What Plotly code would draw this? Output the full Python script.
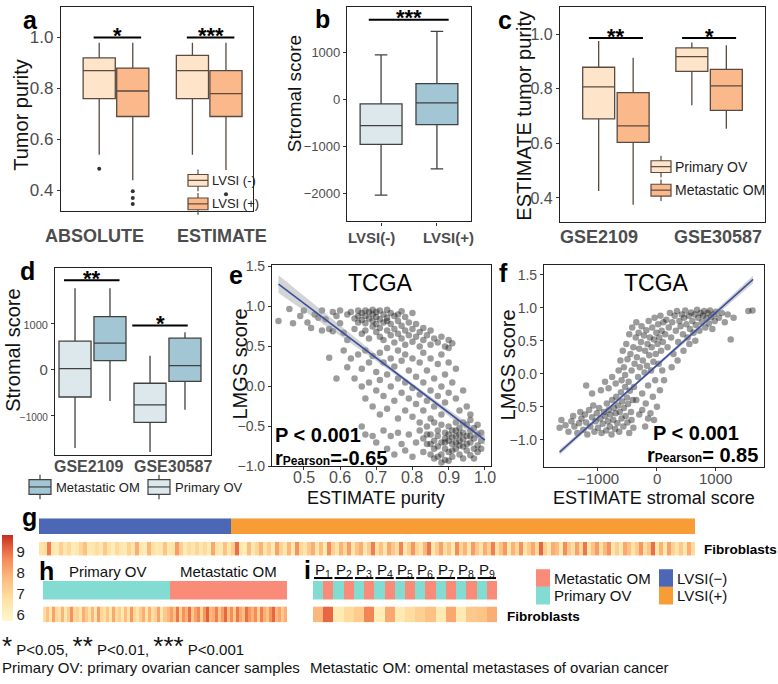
import plotly.graph_objects as go
import numpy as np

W, H = 778, 684
FONT = "Arial, Liberation Sans, Helvetica, sans-serif"
GRAY = "#4d4d4d"

def px(x): return x / W
def py(y): return 1 - y / H
def dx(a, b): return [a / W, b / W]
def dy(top, bottom): return [1 - bottom / H, 1 - top / H]

# ---------------- DATA ----------------
# a: tumor purity by LVSI status
A_CATS = ["ABSOLUTE", "ESTIMATE"]
A_NEG_Q1 = [0.76, 0.76]; A_NEG_MED = [0.87, 0.87]; A_NEG_Q3 = [0.92, 0.93]
A_NEG_LO = [0.54, 0.54]; A_NEG_HI = [0.98, 0.98]
A_POS_Q1 = [0.69, 0.69]; A_POS_MED = [0.79, 0.78]; A_POS_Q3 = [0.88, 0.87]
A_POS_LO = [0.44, 0.48]; A_POS_HI = [0.98, 0.98]
A_NEG_OUT_CAT = ["ABSOLUTE"]; A_NEG_OUT = [0.485]
A_POS_OUT_CAT = ["ABSOLUTE", "ABSOLUTE", "ABSOLUTE", "ESTIMATE"]; A_POS_OUT = [0.396, 0.37, 0.346, 0.385]
A_SIG = ["*", "***"]; A_SIG_Y = [1.0, 1.0]

# b: stromal score by LVSI
B_CATS = ["LVSI(-)", "LVSI(+)"]
B_Q1 = [-960, -540]; B_MED = [-560, -80]; B_Q3 = [-100, 330]
B_LO = [-2040, -1480]; B_HI = [940, 1440]
B_SIG = "***"; B_SIG_Y = 1690

# c: ESTIMATE tumor purity, primary vs metastatic
C_CATS = ["GSE2109", "GSE30587"]
C_PRI_Q1 = [0.69, 0.864]; C_PRI_MED = [0.807, 0.918]; C_PRI_Q3 = [0.879, 0.95]
C_PRI_LO = [0.425, 0.74]; C_PRI_HI = [0.975, 0.97]
C_MET_Q1 = [0.604, 0.721]; C_MET_MED = [0.664, 0.811]; C_MET_Q3 = [0.786, 0.871]
C_MET_LO = [0.375, 0.654]; C_MET_HI = [0.914, 0.96]
C_SIG = ["**", "*"]; C_SIG_Y = [0.986, 0.986]

# d: stromal score, primary vs metastatic
D_CATS = ["GSE2109", "GSE30587"]
D_PRI_Q1 = [-600, -1156]; D_PRI_MED = [20, -771]; D_PRI_Q3 = [620, -300]
D_PRI_LO = [-1713, -1800]; D_PRI_HI = [1777, 300]
D_MET_Q1 = [193, -257]; D_MET_MED = [578, 86]; D_MET_Q3 = [1156, 685]
D_MET_LO = [-685, -878]; D_MET_HI = [1777, 814]
D_SIG = ["**", "*"]; D_SIG_Y = [1950, 963]

# e: LMGS score vs ESTIMATE purity (TCGA)
E_POINTS = [
    (0.43,0.82),(0.46,0.97),(0.47,0.79),(0.49,0.88),(0.50,0.95),(0.51,0.80),(0.52,0.73),(0.53,0.90),
    (0.54,0.86),(0.55,0.70),(0.55,0.95),(0.56,0.84),(0.57,0.72),(0.57,0.36),(0.58,0.93),(0.58,0.69),
    (0.59,0.88),(0.59,0.10),(0.60,0.95),(0.60,0.79),(0.61,0.67),(0.61,0.45),(0.62,0.90),(0.62,0.24),
    (0.62,0.58),
    (0.63,0.93),(0.64,0.85),(0.64,0.72),(0.65,0.95),(0.65,0.88),(0.65,0.80),(0.66,0.92),(0.66,0.83),
    (0.66,0.66),(0.67,0.95),(0.67,0.88),(0.67,0.79),(0.67,0.70),(0.68,0.93),(0.68,0.85),(0.68,0.60),
    (0.69,0.96),(0.69,0.90),(0.69,0.82),(0.69,0.75),(0.70,0.93),(0.70,0.87),(0.70,0.78),(0.70,0.68),
    (0.71,0.95),(0.71,0.84),(0.71,0.73),(0.71,0.62),(0.72,0.90),(0.72,0.80),(0.72,0.58),(0.73,0.96),
    (0.73,0.86),(0.73,0.70),(0.74,0.92),(0.74,0.78),(0.74,0.64),(0.75,0.88),(0.75,0.72),(0.75,0.55),
    (0.76,0.82),(0.76,0.66),(0.77,0.94),(0.77,0.76),(0.77,0.60),(0.78,0.87),(0.78,0.70),(0.78,0.52),
    (0.79,0.80),(0.79,0.64),(0.80,0.92),(0.80,0.72),(0.80,0.56),(0.81,0.78),(0.81,0.62),(0.82,0.68),
    (0.82,0.50),(0.83,0.73),(0.83,0.58),(0.84,0.64),(0.85,0.70),(0.85,0.52),(0.86,0.60),(0.87,0.55),
    (0.88,0.62),(0.89,0.50),(0.90,0.58),(0.91,0.54),(0.73,0.82),(0.76,0.90),
    (0.63,0.35),(0.64,0.10),(0.65,0.40),(0.66,0.22),(0.66,0.00),(0.67,0.45),(0.67,-0.15),(0.68,0.30),
    (0.68,0.05),(0.69,0.38),(0.69,-0.25),(0.70,0.18),(0.70,-0.05),(0.71,0.42),(0.71,0.08),(0.71,-0.35),
    (0.72,0.30),(0.72,-0.12),(0.73,0.48),(0.73,0.15),(0.73,-0.28),(0.74,0.35),(0.74,0.00),(0.75,0.25),
    (0.75,-0.18),(0.76,0.45),(0.76,0.10),(0.76,-0.40),(0.77,0.32),(0.77,-0.08),(0.78,0.40),(0.78,0.05),
    (0.78,-0.30),(0.79,0.20),(0.79,-0.15),(0.80,0.35),(0.80,-0.02),(0.80,-0.38),(0.81,0.12),(0.81,-0.22),
    (0.82,0.30),(0.82,-0.10),(0.82,-0.45),(0.83,0.42),(0.83,0.05),(0.83,-0.30),(0.84,0.20),(0.84,-0.18),
    (0.85,0.35),(0.85,-0.05),(0.85,-0.40),(0.86,0.10),(0.86,-0.25),(0.87,0.28),(0.87,-0.12),(0.88,0.40),
    (0.88,0.00),(0.88,-0.35),(0.89,0.15),(0.89,-0.20),(0.90,0.30),(0.90,-0.08),(0.91,0.05),(0.92,0.22),
    (0.92,-0.15),(0.93,-0.30),(0.94,-0.05),(0.95,-0.25),(0.96,-0.35),(0.90,0.48),
    (0.66,-0.50),(0.67,-0.60),(0.69,-0.62),(0.70,-0.70),(0.72,-0.55),(0.73,-0.78),(0.74,-0.62),(0.75,-0.85),
    (0.76,-0.58),(0.77,-0.72),(0.78,-0.80),(0.79,-0.60),(0.80,-0.88),(0.81,-0.70),(0.82,-0.55),
    (0.83,-0.65),(0.83,-0.82),(0.84,-0.50),(0.84,-0.72),(0.85,-0.60),(0.85,-0.85),(0.86,-0.45),(0.86,-0.68),
    (0.86,-0.90),(0.87,-0.55),(0.87,-0.75),(0.87,-0.62),(0.88,-0.48),(0.88,-0.70),(0.88,-0.85),(0.89,-0.58),
    (0.89,-0.78),(0.89,-0.65),(0.89,-0.92),(0.90,-0.50),(0.90,-0.68),(0.90,-0.82),(0.90,-0.60),(0.91,-0.72),
    (0.91,-0.55),(0.91,-0.88),(0.91,-0.64),(0.92,-0.45),(0.92,-0.78),(0.92,-0.62),(0.92,-0.70),(0.93,-0.52),
    (0.93,-0.85),(0.93,-0.68),(0.93,-0.60),(0.94,-0.75),(0.94,-0.58),(0.94,-0.90),(0.94,-0.66),(0.95,-0.48),
    (0.95,-0.72),(0.95,-0.80),(0.95,-0.62),(0.96,-0.55),(0.96,-0.70),(0.96,-0.86),(0.96,-0.42),(0.97,-0.65),
    (0.97,-0.78),(0.97,-0.52),(0.97,-0.90),(0.98,-0.60),(0.98,-0.74),(0.98,-0.82),(0.98,-0.48),(0.99,-0.68),
    (0.99,-0.58),(0.99,-0.78),(0.88,-0.95),(0.90,-0.93),(0.86,-0.78),(0.84,-0.60),(0.92,-0.55),(0.94,-0.45),
    (0.96,-0.62),(0.93,-0.74),(0.91,-0.80),(0.89,-0.70),(0.87,-0.88),(0.85,-0.72),
]
E_PURITY = [p[0] for p in E_POINTS]
E_LMGS = [p[1] for p in E_POINTS]
E_FIT_SLOPE, E_FIT_INTERCEPT = -3.42, 2.75
E_FIT_RANGE = [0.43, 1.0]
E_XTICKS = [0.5, 0.6, 0.7, 0.8, 0.9, 1.0]
E_STATS = ["P &lt; 0.001", "r<span style='font-size:12px'>Pearson</span>=-0.65"]

# f: LMGS score vs ESTIMATE stromal score (TCGA)
F_POINTS = [
    (-1650,-0.82),(-1620,-0.70),(-1550,-0.78),(-1500,-0.88),(-1450,-0.72),(-1420,-0.64),(-1400,-0.80),
    (-1350,-0.90),(-1320,-0.75),(-1300,-0.58),(-1280,-0.68),(-1250,-0.85),(-1220,-0.62),(-1200,-0.74),
    (-1180,-0.92),(-1150,-0.55),(-1130,-0.80),(-1100,-0.66),(-1080,-0.48),(-1060,-0.88),(-1040,-0.72),
    (-1020,-0.60),(-1000,-0.82),(-980,-0.52),(-960,-0.68),(-940,-0.90),(-920,-0.76),(-900,-0.58),
    (-880,-0.64),(-860,-0.86),(-850,-0.45),(-830,-0.72),(-820,-0.55),(-800,-0.80),(-790,-0.62),
    (-770,-0.92),(-760,-0.40),(-740,-0.70),(-730,-0.52),(-710,-0.84),(-700,-0.60),(-690,-0.35),
    (-670,-0.75),(-660,-0.48),(-640,-0.88),(-630,-0.58),(-610,-0.28),(-600,-0.68),(-590,-0.42),
    (-570,-0.80),(-560,-0.52),(-540,-0.20),(-530,-0.64),(-510,-0.36),(-500,-0.74),(-490,-0.46),
    (-470,-0.90),(-460,-0.26),(-440,-0.58),(-430,-0.70),(-410,-0.40),(-400,-0.82),(-1200,-0.18),
    (-1100,-0.30),(-950,-0.25),(-880,-0.12),(-820,-0.22),(-760,-0.05),(-700,-0.15),(-650,0.05),
    (-620,0.20),(-600,-0.10),(-580,0.35),(-560,0.10),(-540,-0.02),(-520,0.45),(-500,0.22),(-480,-0.12),
    (-470,0.60),(-450,0.30),(-430,0.05),(-420,0.70),(-400,0.40),(-390,-0.20),(-380,0.15),(-360,0.55),
    (-350,0.78),(-340,0.25),(-320,-0.05),(-310,0.62),(-300,0.38),(-290,0.10),(-270,0.48),(-260,0.72),
    (-250,-0.30),(-240,0.20),(-220,0.58),(-210,0.02),(-200,0.35),(-190,-0.45),(-180,0.66),(-170,0.12),
    (-160,0.45),(-150,-0.18),(-140,0.80),(-130,0.28),(-120,0.55),(-110,-0.60),(-100,0.05),(-90,0.40),
    (-80,0.70),(-70,-0.35),(-60,0.18),(-50,0.52),(-40,0.85),(-30,-0.10),(-20,0.30),(-10,0.62),(0,-0.50),
    (10,0.45),(20,0.75),(30,0.15),(40,0.55),(50,-0.25),(60,0.88),(70,0.35),(80,0.65),(90,0.05),
    (100,0.48),(110,0.78),(120,-0.10),(-250,-0.55),(-150,-0.68),(-300,-0.62),(-350,-0.40),(-50,-0.70),
    (-200,-0.80),
    (140,0.60),(160,0.82),(180,0.40),(200,0.70),(220,0.92),(240,0.55),(260,0.78),(280,0.30),(300,0.88),
    (320,0.65),(340,0.95),(360,0.48),(380,0.80),(400,0.72),(420,0.90),(440,0.60),(460,0.85),(480,0.96),
    (500,0.75),(520,0.55),(540,0.88),(560,0.68),(580,0.93),(600,0.80),(620,0.62),(640,0.90),(660,0.74),
    (680,0.97),(700,0.85),(720,0.65),(740,0.92),(760,0.78),(780,0.88),(800,0.95),(820,0.70),(840,0.84),
    (860,0.92),(880,0.76),(900,0.96),(920,0.86),(940,0.68),(960,0.90),(980,0.80),(1000,0.94),(1050,0.85),
    (1100,0.92),(1150,0.78),(1200,0.90),(1250,0.52),(1300,0.85),(1550,0.95),(1620,0.96),(350,0.20),
    (450,0.35),(550,0.45),(250,0.10),(650,0.50),
]
F_STROMAL = [p[0] for p in F_POINTS]
F_LMGS = [p[1] for p in F_POINTS]
F_FIT_SLOPE, F_FIT_INTERCEPT = 0.000799, 0.128
F_FIT_RANGE = [-1650, 1630]
F_XTICKS = [-1000, 0, 1000]
F_XTICKTEXT = ["−1000", "0", "1000"]
F_STATS = ["P &lt; 0.001", "r<span style='font-size:12px'>Pearson</span>= 0.85"]

# g: TCGA fibroblast scores by LVSI
G_FIBRO = [
    6.6,6.8,8.8,6.5,6.3,7.2,6.5,6.9,6.2,6.4,7.0,7.6,6.3,6.5,6.8,6.4,7.4,6.6,6.2,6.9,
    6.5,6.3,7.1,6.6,8.0,6.4,6.2,7.8,6.7,6.3,6.5,7.5,6.4,6.6,8.3,7.2,6.3,6.8,6.5,7.0,
    6.4,6.9,6.3,8.1,6.6,6.4,7.6,6.5,7.3,9.0,6.5,6.2,7.7,6.4,7.0,7.9,6.6,7.3,6.3,8.2,
    7.1,6.5,7.8,6.4,8.5,7.0,6.6,7.4,8.0,6.5,7.7,6.3,8.6,7.2,6.5,7.9,7.0,8.3,6.6,7.5,
    8.0,6.4,7.3,8.8,6.7,7.6,6.5,8.1,7.4,6.8,8.7,6.4,7.2,8.4,7.0,6.6,7.8,8.9,6.5,7.3,
    8.2,6.8,7.5,6.3,8.6,7.1,7.9,6.5,8.3,7.4,6.6,8.0,7.2,8.8,6.7,7.6,8.4,6.5,7.9,7.0,
    8.5,6.6,7.3,8.1,6.9,9.1,7.2,6.5,8.0,7.7,6.4,8.6,7.4,6.8,8.2,7.0,8.9,6.6,7.5,8.3,
    6.7,7.8,8.5,6.5,7.2,6.4,8.1,7.6,6.6,7.3,8.4,6.8,7.5,9.0,6.5,7.9,6.4,8.2,7.1,6.6,
    7.4,6.5,8.0,6.9,
]
G_N_NEG = 48
G_GROUP = ["LVSI(−)"] * G_N_NEG + ["LVSI(+)"] * (len(G_FIBRO) - G_N_NEG)

# h: GSE2109 fibroblast scores
H_FIBRO = [
    6.8,7.6,6.5,8.2,7.0,6.6,7.9,6.4,7.3,8.5,6.9,7.1,6.5,8.0,7.4,6.6,7.8,6.4,8.3,7.0,
    6.7,7.5,6.5,8.1,6.8,7.2,6.4,7.7,6.6,8.4,7.0,6.5,7.3,8.0,6.6,7.9,6.8,7.1,8.2,6.5,7.4,7.8,
    8.3,7.6,8.9,7.2,8.5,7.9,9.0,7.4,8.2,8.7,7.1,8.4,9.2,7.8,8.0,8.8,7.5,8.3,9.1,7.7,
    8.6,7.3,8.9,8.1,7.6,9.0,8.4,7.9,8.6,7.2,8.8,8.0,7.5,8.5,9.1,7.8,8.2,7.4,8.0,
]
H_N_PRI = 42
H_GROUP = ["Primary OV"] * H_N_PRI + ["Metastatic OM"] * (len(H_FIBRO) - H_N_PRI)
H_GROUP_LABELS = ["Primary OV", "Metastatic OM"]

# i: GSE30587 paired samples
I_PATIENTS = ["P<sub>%d</sub>" % k for k in range(1, 10)]
I_GROUP = ["Primary OV", "Metastatic OM"] * 9
I_FIBRO = [7.8, 9.1, 6.3, 6.9, 7.3, 8.7, 6.2, 8.1, 6.3, 6.8, 7.2, 7.6, 6.3, 8.1, 6.3, 7.4, 7.5, 8.0]

# ---------------- STYLE ----------------
PEACH_L, PEACH_D, BROWN = "#FEE4C8", "#FBB98B", "#5a4a40"
BLUE_L, BLUE_D, DGRAY = "#DCE8EB", "#A3C6D4", "#404040"
TEAL, SALMON, LBLUE, LORANGE = "#83DCD2", "#F98B78", "#4C67B6", "#F89D35"
HEAT_SCALE = [[0, "#FFF8CC"], [0.25, "#FEE1A3"], [0.5, "#FCBB7E"], [0.72, "#F58A59"],
              [0.88, "#E0573A"], [1, "#C42E1E"]]

fig = go.Figure()
shapes, annotations = [], []

def ann(text, x, y, size, color="#000", bold=False, xanchor="center", yanchor="middle",
        angle=0, xref="paper", yref="paper", **kw):
    if bold:
        text = "<b>%s</b>" % text
    annotations.append(dict(text=text, x=x, y=y, xref=xref, yref=yref, showarrow=False,
                            xanchor=xanchor, yanchor=yanchor, textangle=angle,
                            font=dict(size=size, color=color, family=FONT), **kw))

def pann(text, x, y, size, **kw):
    ann(text, px(x), py(y), size, **kw)

def box(xs, q1, med, q3, lo, hi, fill, edge, width, ax, ww=0.0):
    return go.Box(x=xs, q1=q1, median=med, q3=q3, lowerfence=lo, upperfence=hi,
                  fillcolor=fill, line=dict(color=edge, width=1.3), width=width,
                  whiskerwidth=ww, boxpoints=False, xaxis="x" + ax, yaxis="y" + ax,
                  hoverinfo="skip", showlegend=False)

def sig(ax, x0, x1, y, text):
    shapes.append(dict(type="line", xref="x" + ax, yref="y" + ax, x0=x0, x1=x1, y0=y, y1=y,
                       line=dict(color="#000", width=2)))
    ann(text, (x0 + x1) / 2, y, 22, bold=True, xref="x" + ax, yref="y" + ax, yshift=2)

def glyph(xc, yc, fill, edge, w=20, h=12, wh=5):
    shapes.append(dict(type="line", xref="paper", yref="paper", x0=px(xc), x1=px(xc),
                       y0=py(yc - h / 2 - wh), y1=py(yc + h / 2 + wh), line=dict(color=edge, width=1.2)))
    shapes.append(dict(type="rect", xref="paper", yref="paper", x0=px(xc - w / 2), x1=px(xc + w / 2),
                       y0=py(yc + h / 2), y1=py(yc - h / 2), fillcolor=fill, line=dict(color=edge, width=1.2)))
    shapes.append(dict(type="line", xref="paper", yref="paper", x0=px(xc - w / 2), x1=px(xc + w / 2),
                       y0=py(yc), y1=py(yc), line=dict(color=edge, width=1.2)))

def frame(domain, rng, **kw):
    d = dict(domain=domain, range=rng, showline=True, mirror=True, linecolor="#222", linewidth=1.2,
             showgrid=False, zeroline=False, ticks="outside", ticklen=3, tickcolor="#333",
             tickfont=dict(size=14, color=GRAY, family=FONT), fixedrange=True)
    d.update(kw)
    return d

def bare(domain, rng):
    return dict(domain=domain, range=rng, visible=False, showgrid=False, zeroline=False, fixedrange=True)

layout_axes = {}

# ---------- panel a ----------
A_POS = {c: i + 1 for i, c in enumerate(A_CATS)}
xa = [A_POS[c] for c in A_CATS]
fig.add_trace(box([p - 0.18 for p in xa], A_NEG_Q1, A_NEG_MED, A_NEG_Q3, A_NEG_LO, A_NEG_HI, PEACH_L, BROWN, 0.345, ""))
fig.add_trace(box([p + 0.18 for p in xa], A_POS_Q1, A_POS_MED, A_POS_Q3, A_POS_LO, A_POS_HI, PEACH_D, BROWN, 0.345, ""))
fig.add_trace(go.Scatter(x=[A_POS[c] - 0.18 for c in A_NEG_OUT_CAT], y=A_NEG_OUT, mode="markers",
                         marker=dict(color="#333", size=4), xaxis="x", yaxis="y", hoverinfo="skip"))
fig.add_trace(go.Scatter(x=[A_POS[c] + 0.18 for c in A_POS_OUT_CAT], y=A_POS_OUT, mode="markers",
                         marker=dict(color="#333", size=4), xaxis="x", yaxis="y", hoverinfo="skip"))
layout_axes["xaxis"] = frame(dx(61, 253), [0.41, 2.47], showticklabels=False, ticks="", anchor="y")
layout_axes["yaxis"] = frame(dy(1, 209), [0.32, 1.12], tickvals=[0.4, 0.6, 0.8, 1.0], tickformat=".1f",
                             tickfont=dict(size=17, color=GRAY, family=FONT), anchor="x")
for c, s, yv in zip(A_CATS, A_SIG, A_SIG_Y):
    sig("", A_POS[c] - 0.24, A_POS[c] + 0.27, yv, s)
for c, xc in zip(A_CATS, [94, 222]):
    pann(c, xc, 235, 18, color=GRAY, bold=True)
pann("Tumor purity", 21, 111, 20, color="#111", angle=-90)
glyph(198, 178, PEACH_L, BROWN)
glyph(198, 202, PEACH_D, BROWN)
pann("LVSI (-)", 210, 178, 13, color="#222", xanchor="left")
pann("LVSI (+)", 210, 202, 13, color="#222", xanchor="left")

# ---------- panel b ----------
xb = [1, 2]
fig.add_trace(box([xb[0]], [B_Q1[0]], [B_MED[0]], [B_Q3[0]], [B_LO[0]], [B_HI[0]], BLUE_L, DGRAY, 0.75, "2", 0.3))
fig.add_trace(box([xb[1]], [B_Q1[1]], [B_MED[1]], [B_Q3[1]], [B_LO[1]], [B_HI[1]], BLUE_D, DGRAY, 0.75, "2", 0.3))
layout_axes["xaxis2"] = frame(dx(347, 471), [0.39, 2.61], tickvals=xb, showticklabels=False, anchor="y2")
layout_axes["yaxis2"] = frame(dy(1, 220), [-2600, 1960], tickvals=[-2000, -1000, 0, 1000],
                              ticktext=["−2000", "−1000", "0", "1000"],
                              tickfont=dict(size=13, color=GRAY, family=FONT), anchor="x2")
sig("2", 0.78, 2.21, B_SIG_Y, B_SIG)
for c, xc in zip(B_CATS, [371, 448]):
    pann(c, xc, 236, 15, color=GRAY, bold=True)
pann("Stromal score", 294, 90, 19, color="#111", angle=-90)

# ---------- panel c ----------
C_POS = {c: i + 1 for i, c in enumerate(C_CATS)}
xc_ = [C_POS[c] for c in C_CATS]
fig.add_trace(box([p - 0.185 for p in xc_], C_PRI_Q1, C_PRI_MED, C_PRI_Q3, C_PRI_LO, C_PRI_HI, PEACH_L, BROWN, 0.343, "3"))
fig.add_trace(box([p + 0.185 for p in xc_], C_MET_Q1, C_MET_MED, C_MET_Q3, C_MET_LO, C_MET_HI, PEACH_D, BROWN, 0.343, "3"))
layout_axes["xaxis3"] = frame(dx(560, 765), [0.40, 2.60], showticklabels=False, ticks="", anchor="y3")
layout_axes["yaxis3"] = frame(dy(1, 221), [0.31, 1.10], tickvals=[0.4, 0.6, 0.8, 1.0], tickformat=".1f",
                              tickfont=dict(size=16, color=GRAY, family=FONT), anchor="x3")
for c, s, yv in zip(C_CATS, C_SIG, C_SIG_Y):
    sig("3", C_POS[c] - 0.29, C_POS[c] + 0.29, yv, s)
for c, xcc in zip(C_CATS, [599, 718]):
    pann(c, xcc, 236, 18, color=GRAY, bold=True)
pann("ESTIMATE tumor purity", 524, 112, 20, color="#111", angle=-90)
glyph(661, 164, PEACH_L, BROWN)
glyph(661, 188, PEACH_D, BROWN)
pann("Primary OV", 673, 164, 14, color="#222", xanchor="left")
pann("Metastatic OM", 673, 188, 14, color="#222", xanchor="left")

# ---------- panel d ----------
D_POS = {c: i + 1 for i, c in enumerate(D_CATS)}
xd = [D_POS[c] for c in D_CATS]
fig.add_trace(box([p - 0.233 for p in xd], D_PRI_Q1, D_PRI_MED, D_PRI_Q3, D_PRI_LO, D_PRI_HI, BLUE_L, DGRAY, 0.427, "4"))
fig.add_trace(box([p + 0.233 for p in xd], D_MET_Q1, D_MET_MED, D_MET_Q3, D_MET_LO, D_MET_HI, BLUE_D, DGRAY, 0.427, "4"))
layout_axes["xaxis4"] = frame(dx(55, 211), [0.5, 2.58], showticklabels=False, ticks="", anchor="y4")
layout_axes["yaxis4"] = frame(dy(267, 458), [-1860, 2230], tickvals=[-1000, 0, 1000],
                              ticktext=["<span style='font-size:10px'>−1000</span>", "0",
                                        "<span style='font-size:11px'>1000</span>"],
                              tickfont=dict(size=15, color=GRAY, family=FONT), anchor="x4")
for c, s, yv, off in zip(D_CATS, D_SIG, D_SIG_Y, [-0.01, -0.1]):
    sig("4", D_POS[c] + off - 0.37, D_POS[c] + off + 0.37, yv, s)
for c, xcc in zip(D_CATS, [88, 173]):
    pann(c, xcc, 470, 16, color=GRAY, bold=True)
pann("Stromal score", 13, 352, 20, color="#111", angle=-90)
glyph(40, 491, BLUE_D, DGRAY, w=22, h=15, wh=5)
glyph(159, 491, BLUE_L, DGRAY, w=22, h=15, wh=5)
pann("Metastatic OM", 54, 492, 13, color="#222", xanchor="left")
pann("Primary OV", 173, 492, 13, color="#222", xanchor="left")

# ---------- panel e ----------
def fit_band(ax, slope, icpt, rng, xm, a, b):
    xs = np.linspace(rng[0], rng[1], 40)
    ys = slope * xs + icpt
    hw = np.sqrt(a ** 2 + (b * (xs - xm)) ** 2)
    fig.add_trace(go.Scatter(x=np.concatenate([xs, xs[::-1]]), y=np.concatenate([ys + hw, (ys - hw)[::-1]]),
                             fill="toself", fillcolor="rgba(160,160,160,0.45)", line=dict(width=0),
                             mode="lines", xaxis="x" + ax, yaxis="y" + ax, hoverinfo="skip"))
    fig.add_trace(go.Scatter(x=xs, y=ys, mode="lines", line=dict(color="#3B4F9E", width=1.6),
                             xaxis="x" + ax, yaxis="y" + ax, hoverinfo="skip"))

fig.add_trace(go.Scatter(x=E_PURITY, y=E_LMGS, mode="markers",
                         marker=dict(color="rgba(20,20,20,0.42)", size=6.5, line=dict(width=0)),
                         xaxis="x5", yaxis="y5", hoverinfo="skip"))
fit_band("5", E_FIT_SLOPE, E_FIT_INTERCEPT, E_FIT_RANGE, 0.80, 0.025, 0.29)
layout_axes["xaxis5"] = frame(dx(272, 491), [0.412, 1.017], tickvals=E_XTICKS, showticklabels=False,
                              anchor="y5")
layout_axes["yaxis5"] = frame(dy(264, 470), [-1.0, 1.524], tickvals=[-1.0, -0.5, 0, 0.5, 1.0, 1.5],
                              tickformat=".1f", anchor="x5")
for t in E_XTICKS:
    ann("%.1f" % t, t, py(481), 16, color=GRAY, xref="x5")
pann("TCGA", 380, 283, 23)
pann(E_STATS[0], 273, 438, 20, bold=True, xanchor="left")
pann(E_STATS[1], 273, 461, 20, bold=True, xanchor="left")
pann("ESTIMATE purity", 376, 502, 18, color="#111")
pann("LMGS score", 240, 366, 20, color="#111", angle=-90)

# ---------- panel f ----------
fig.add_trace(go.Scatter(x=F_STROMAL, y=F_LMGS, mode="markers",
                         marker=dict(color="rgba(20,20,20,0.42)", size=6.5, line=dict(width=0)),
                         xaxis="x6", yaxis="y6", hoverinfo="skip"))
fit_band("6", F_FIT_SLOPE, F_FIT_INTERCEPT, F_FIT_RANGE, -300, 0.02, 0.000028)
layout_axes["xaxis6"] = frame(dx(544, 764), [-1915, 1815], tickvals=F_XTICKS, showticklabels=False,
                              anchor="y6")
layout_axes["yaxis6"] = frame(dy(264, 471), [-1.42, 1.655], tickvals=[-1.0, -0.5, 0, 0.5, 1.0, 1.5],
                              tickformat=".1f", anchor="x6")
for t, lab in zip(F_XTICKS, F_XTICKTEXT):
    ann(lab, t, py(482), 15, color=GRAY, xref="x6")
pann("TCGA", 656, 283, 23)
pann(F_STATS[0], 741, 436, 20, bold=True, xanchor="right")
pann(F_STATS[1], 760, 458, 20, bold=True, xanchor="right")
pann("ESTIMATE stromal score", 654, 502, 18, color="#111")
pann("LMGS score", 508, 367, 20, color="#111", angle=-90)

# ---------- heatmaps g / h / i ----------
def annot_bar(groups, levels, colors, ax):
    code = {g: i for i, g in enumerate(levels)}
    z = [[code[g] for g in groups]]
    n = len(levels)
    scale = []
    for i, c in enumerate(colors):
        scale += [[i / n, c], [(i + 1) / n, c]]
    fig.add_trace(go.Heatmap(z=z, zmin=-0.5, zmax=n - 0.5, colorscale=scale, showscale=False,
                             xaxis="x" + ax, yaxis="y" + ax, hoverinfo="skip"))

def value_row(vals, ax):
    fig.add_trace(go.Heatmap(z=[vals], coloraxis="coloraxis", xaxis="x" + ax, yaxis="y" + ax, hoverinfo="skip"))

annot_bar(G_GROUP, ["LVSI(−)", "LVSI(+)"], [LBLUE, LORANGE], "7")
value_row(G_FIBRO, "8")
layout_axes["xaxis7"] = bare(dx(39, 695), [-0.5, len(G_FIBRO) - 0.5]); layout_axes["yaxis7"] = bare(dy(523, 539), [-0.5, 0.5])
layout_axes["xaxis8"] = bare(dx(39, 695), [-0.5, len(G_FIBRO) - 0.5]); layout_axes["yaxis8"] = bare(dy(547, 561), [-0.5, 0.5])

annot_bar(H_GROUP, ["Primary OV", "Metastatic OM"], [TEAL, SALMON], "9")
value_row(H_FIBRO, "10")
layout_axes["xaxis9"] = bare(dx(43, 287), [-0.5, len(H_FIBRO) - 0.5]); layout_axes["yaxis9"] = bare(dy(587, 606), [-0.5, 0.5])
layout_axes["xaxis10"] = bare(dx(43, 287), [-0.5, len(H_FIBRO) - 0.5]); layout_axes["yaxis10"] = bare(dy(613, 629), [-0.5, 0.5])

annot_bar(I_GROUP, ["Primary OV", "Metastatic OM"], [TEAL, SALMON], "11")
value_row(I_FIBRO, "12")
layout_axes["xaxis11"] = bare(dx(313, 497), [-0.5, len(I_FIBRO) - 0.5]); layout_axes["yaxis11"] = bare(dy(587, 606), [-0.5, 0.5])
layout_axes["xaxis12"] = bare(dx(313, 497), [-0.5, len(I_FIBRO) - 0.5]); layout_axes["yaxis12"] = bare(dy(613, 629), [-0.5, 0.5])
for k in (7, 8, 9, 10, 11, 12):
    layout_axes["xaxis%d" % k]["anchor"] = "y%d" % k
    layout_axes["yaxis%d" % k]["anchor"] = "x%d" % k

pann("Fibroblasts", 702, 555, 13.5, bold=True, xanchor="left")
pann("Fibroblasts", 505, 623, 13.5, bold=True, xanchor="left")
for lab, xcc in zip(H_GROUP_LABELS, [108, 228]):
    pann(lab, xcc, 577, 15, color="#111")
for k, lab in enumerate(I_PATIENTS):
    xm = 2 * k + 0.5
    ann(lab, xm, py(576), 15, color="#111", xref="x11")
    shapes.append(dict(type="line", xref="x11", yref="paper", x0=xm - 0.9, x1=xm + 0.9,
                       y0=py(584), y1=py(584), line=dict(color="#000", width=2)))

# legend for annotation bars
for (col, lab, xs, ys) in [(SALMON, "Metastatic OM", 536, 575), (TEAL, "Primary OV", 536, 593),
                           (LBLUE, "LVSI(−)", 659, 575), (LORANGE, "LVSI(+)", 659, 593)]:
    shapes.append(dict(type="rect", xref="paper", yref="paper", x0=px(xs), x1=px(xs + 14),
                       y0=py(ys + 18), y1=py(ys), fillcolor=col, line=dict(width=0)))
    pann(lab, xs + 16, ys + 9, 15, color="#111", xanchor="left")

# panel letters
for lab, x, y in [("a", 30, 14), ("b", 322, 13), ("c", 505, 14), ("d", 27, 271), ("e", 236, 275),
                  ("f", 503, 273), ("g", 29, 522), ("h", 46, 577), ("i", 307, 576)]:
    pann(lab, x, y, 25, bold=True)

# footnotes
BIG = "<span style='font-size:26px'>%s</span>"
pann(BIG % "*" + " P&lt;0.05, " + BIG % "**" + " P&lt;0.01, " + BIG % "***" + " P&lt;0.001",
     0, 653, 15, color="#111", xanchor="left")
pann("Primary OV: primary ovarian cancer samples", 0, 675, 15, color="#111", xanchor="left")
pann("Metastatic OM: omental metastases of ovarian cancer", 308, 675, 15, color="#111", xanchor="left")

fig.update_layout(
    width=W, height=H, margin=dict(l=0, r=0, t=0, b=0),
    paper_bgcolor="white", plot_bgcolor="white", showlegend=False,
    font=dict(family=FONT),
    coloraxis=dict(colorscale=HEAT_SCALE, cmin=5.7, cmax=9.8,
                   colorbar=dict(x=px(2), xanchor="left", y=py(540), yanchor="top",
                                 len=(628 - 540) / H, lenmode="fraction", thickness=11,
                                 thicknessmode="pixels", outlinewidth=0, tickvals=[6, 7, 8, 9],
                                 ticks="", tickfont=dict(size=15, color="#222", family=FONT),
                                 xpad=0, ypad=0)),
    shapes=shapes, annotations=annotations,
    **layout_axes,
)
fig.write_html("out.html", config={"displayModeBar": False},
               post_script="document.body.style.margin='0px';document.body.style.overflow='hidden';")
